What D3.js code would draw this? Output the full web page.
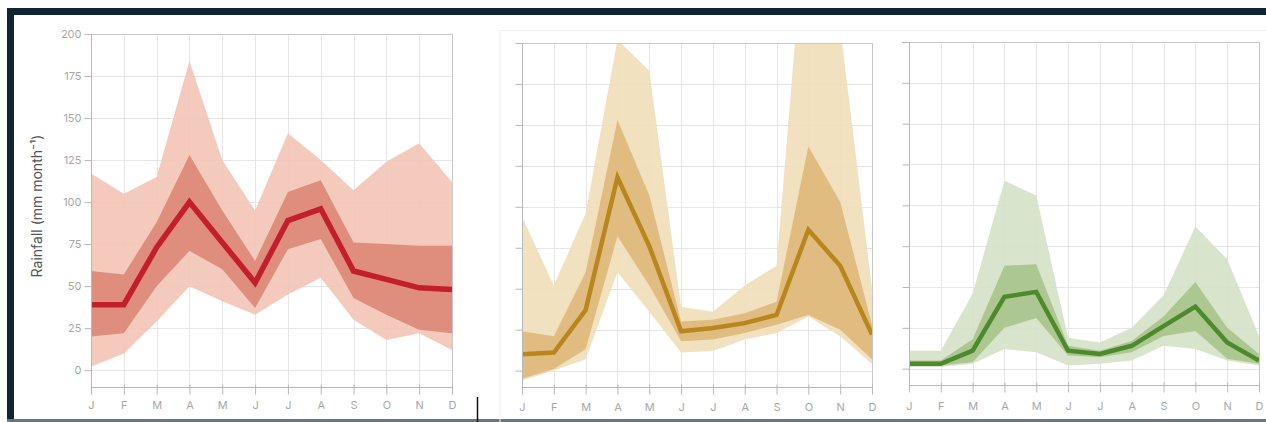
<!DOCTYPE html>
<html>
<head>
<meta charset="utf-8">
<script src="https://cdn.jsdelivr.net/npm/d3@7"></script>
<style>
  html, body { margin: 0; padding: 0; background: #fff; }
  svg { display: block; }
  .tick-label { font-family: Inter, "Open Sans", sans-serif; font-size: 11px; fill: #a8a8a8; }
</style>
</head>
<body>
<svg id="chart" width="1266" height="422"></svg>
<script>
// Month initials along the x axis
const months = ["J", "F", "M", "A", "M", "J", "J", "A", "S", "O", "N", "D"];
// Rainfall ticks (mm per month)
const yTicks = [0, 25, 50, 75, 100, 125, 150, 175, 200];

// Region 1 (red)
const redMedian    = [39, 39, 73, 100, 76, 52, 89, 96, 59, 54, 49, 48];
const redInnerLow  = [20, 22, 50, 71, 60, 37, 72, 78, 43, 33, 24, 22];
const redInnerHigh = [59, 57, 88, 128, 95, 65, 106, 113, 76, 75, 74, 74];
const redOuterLow  = [2, 10, 29, 50, 41, 33, 45, 55, 30, 18, 22, 12];
const redOuterHigh = [117, 105, 115, 184, 125, 95, 141, 125, 107, 124, 135, 112];

// Region 2 (gold)
const goldMedian    = [10, 11, 37, 118, 76, 24, 26, 29, 34, 86, 64, 22];
const goldInnerLow  = [-5, 1, 13, 82, 52, 18, 19, 23, 28, 34, 25, 7];
const goldInnerHigh = [24, 21, 60, 153, 107, 30, 31, 35, 42, 137, 103, 28];
const goldOuterLow  = [-6, 0, 7, 60, 36, 11, 12, 19, 23, 33, 21, 4];
const goldOuterHigh = [94, 52, 96, 202, 183, 39, 36, 52, 64, 300, 210, 50];

// Region 3 (green)
const greenMedian    = [3, 3, 11, 44, 47, 11, 9, 14, 26, 38, 16, 5];
const greenInnerLow  = [2, 2, 4, 25, 31, 8, 7, 10, 20, 23, 6, 3];
const greenInnerHigh = [5, 5, 18, 63, 64, 14, 11, 17, 32, 53, 25, 9];
const greenOuterLow  = [1, 1, 3, 12, 10, 2, 3, 5, 14, 12, 5, 2];
const greenOuterHigh = [11, 11, 46, 115, 106, 19, 16, 25, 45, 87, 67, 20];

const svg = d3.select("#chart");

// Page frame: dark rule on top and left, slate rule at the bottom
svg.append("rect").attr("x", 7).attr("y", 8).attr("width", 1259).attr("height", 7).attr("fill", "#0f2632");
svg.append("rect").attr("x", 7).attr("y", 8).attr("width", 7).attr("height", 414).attr("fill", "#0f2632");
svg.append("rect").attr("x", 7).attr("y", 419).attr("width", 1259).attr("height", 3).attr("fill", "#66777f");
// faint card outline behind the right two panels
svg.append("path").attr("d", "M500,422 V30.5 H1266").attr("fill", "none").attr("stroke", "#f0f0f0").attr("stroke-width", 1);
// short separator mark
svg.append("line").attr("x1", 477.5).attr("x2", 477.5).attr("y1", 397).attr("y2", 422).attr("stroke", "#111").attr("stroke-width", 1.5);

const panels = [
  { id: "p1", left: 91, right: 452, top: 34, bottom: 387, labelY: 405, tickLabels: true,
    median: redMedian, innerLow: redInnerLow, innerHigh: redInnerHigh, outerLow: redOuterLow, outerHigh: redOuterHigh,
    light: "#f3c6b6", dark: "#dc8876", line: "#c21f2a", lw: 5.5 },
  { id: "p2", left: 522, right: 872, top: 43, bottom: 387, labelY: 407, tickLabels: false,
    median: goldMedian, innerLow: goldInnerLow, innerHigh: goldInnerHigh, outerLow: goldOuterLow, outerHigh: goldOuterHigh,
    light: "#f0deba", dark: "#dfb97c", line: "#b8861d", lw: 4.5 },
  { id: "p3", left: 909, right: 1259, top: 42, bottom: 385, labelY: 406, tickLabels: false,
    median: greenMedian, innerLow: greenInnerLow, innerHigh: greenInnerHigh, outerLow: greenOuterLow, outerHigh: greenOuterHigh,
    light: "#d6e2c8", dark: "#a9c48c", line: "#4d8a2d", lw: 4.5 }
];

panels.forEach(p => {
  const x = d3.scalePoint().domain(d3.range(months.length)).range([p.left, p.right]);
  const y = d3.scaleLinear().domain([-10, 200]).range([p.bottom, p.top]);
  const g = svg.append("g");

  g.append("clipPath").attr("id", "clip-" + p.id)
    .append("rect").attr("x", p.left).attr("y", p.top).attr("width", p.right - p.left).attr("height", p.bottom - p.top);

  // grid
  const grid = g.append("g").attr("stroke", "#e6e6e6").attr("stroke-width", 1);
  grid.selectAll(".hg").data(yTicks).join("line")
    .attr("x1", p.left).attr("x2", p.right)
    .attr("y1", d => Math.round(y(d)) + 0.5).attr("y2", d => Math.round(y(d)) + 0.5);
  grid.selectAll(".vg").data(d3.range(months.length)).join("line")
    .attr("x1", i => Math.round(x(i)) + 0.5).attr("x2", i => Math.round(x(i)) + 0.5)
    .attr("y1", p.top).attr("y2", p.bottom);

  // bands and median
  const area = (lo, hi) => d3.area().x((d, i) => x(i)).y0((d, i) => y(lo[i])).y1((d, i) => y(hi[i]));
  const plot = g.append("g").attr("clip-path", `url(#clip-${p.id})`);
  plot.append("path").datum(months).attr("d", area(p.outerLow, p.outerHigh)(months))
    .attr("fill", p.light).attr("opacity", 0.92);
  plot.append("path").datum(months).attr("d", area(p.innerLow, p.innerHigh)(months))
    .attr("fill", p.dark).attr("opacity", 0.92);
  plot.append("path").datum(p.median)
    .attr("d", d3.line().x((d, i) => x(i)).y(d => y(d)))
    .attr("fill", "none").attr("stroke", p.line).attr("stroke-width", p.lw)
    .attr("stroke-linejoin", "miter");

  // frame lines: top and right edges
  g.append("path")
    .attr("d", `M${p.left},${p.top + 0.5} H${p.right + 0.5} V${p.bottom}`)
    .attr("fill", "none").attr("stroke", "#c8c8c8").attr("stroke-width", 1);

  // y axis
  const yAxis = d3.axisLeft(y).tickValues(yTicks).tickSize(7).tickPadding(3)
    .tickFormat(p.tickLabels ? d3.format("d") : "");
  const ya = g.append("g").attr("transform", `translate(${p.left + 0.5},0)`).call(yAxis);
  ya.select(".domain").attr("stroke", "#b8b8b8").attr("d", `M0,${p.top}V${p.bottom}`);
  ya.selectAll(".tick line").attr("stroke", "#b8b8b8");
  ya.selectAll(".tick text").attr("class", "tick-label").attr("fill", null);

  // x axis
  const xAxis = d3.axisBottom(x).tickSize(7).tickFormat(i => months[i]).tickPadding(8);
  const xa = g.append("g").attr("transform", `translate(0,${p.bottom + 0.5})`).call(xAxis);
  xa.select(".domain").attr("stroke", "#b8b8b8").attr("d", `M${p.left},0H${p.right}`);
  xa.selectAll(".tick line").attr("stroke", "#b8b8b8").attr("y1", -3);
  xa.selectAll(".tick text").attr("class", "tick-label").attr("fill", null)
    .attr("y", p.labelY - p.bottom).attr("dy", "0.35em");
});

// y axis title
svg.append("text")
  .attr("transform", "translate(38,206) rotate(-90)")
  .attr("text-anchor", "middle").attr("dominant-baseline", "middle")
  .style("font-family", "Inter, 'Open Sans', sans-serif").style("font-size", "14px").style("fill", "#555")
  .text("Rainfall (mm month⁻¹)");
</script>
</body>
</html>
